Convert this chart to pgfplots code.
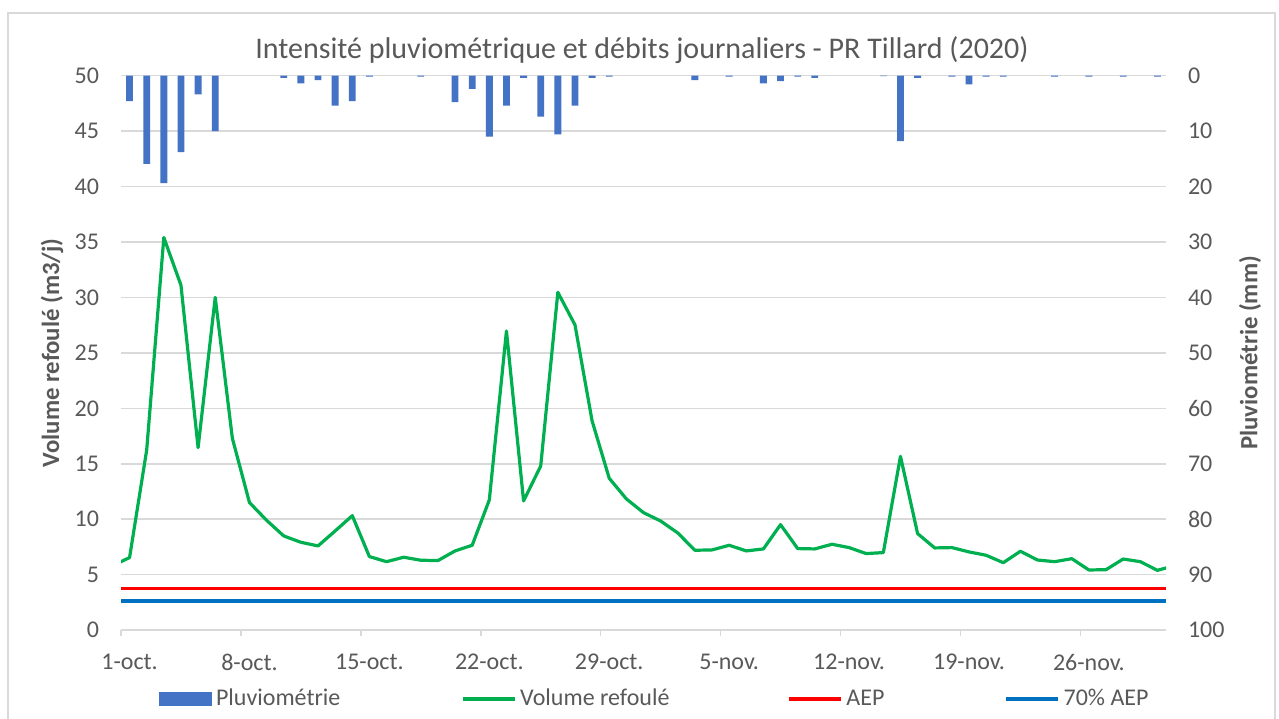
\documentclass[border=0pt]{standalone}
\usepackage{pgfplots}
\usepackage{pgfplotstable}
\pgfplotsset{compat=1.18}
\usepackage{fontspec}
\setmainfont{Carlito}
\definecolor{txtgray}{HTML}{595959}
\definecolor{gridgray}{HTML}{D9D9D9}
\definecolor{barblue}{HTML}{4472C4}
\definecolor{volgreen}{HTML}{00B050}
\definecolor{aepred}{HTML}{FF0000}
\definecolor{aepblue}{HTML}{0070C0}

% Volume refoule (m3/j), day centres (1-oct = 0.5); first and last points lie outside the axis and are clipped
\pgfplotstableread{
x y
-0.5 5.80
0.5 6.54
1.5 16.24
2.5 35.40
3.5 31.10
4.5 16.45
5.5 30.00
6.5 17.30
7.5 11.50
8.5 9.90
9.5 8.49
10.5 7.92
11.5 7.59
12.5 8.94
13.5 10.32
14.5 6.63
15.5 6.17
16.5 6.57
17.5 6.30
18.5 6.27
19.5 7.14
20.5 7.65
21.5 11.74
22.5 26.97
23.5 11.65
24.5 14.80
25.5 30.46
26.5 27.52
27.5 18.86
28.5 13.69
29.5 11.83
30.5 10.59
31.5 9.84
32.5 8.76
33.5 7.20
34.5 7.23
35.5 7.65
36.5 7.14
37.5 7.32
38.5 9.51
39.5 7.35
40.5 7.32
41.5 7.74
42.5 7.44
43.5 6.90
44.5 6.99
45.5 15.67
46.5 8.70
47.5 7.41
48.5 7.44
49.5 7.05
50.5 6.75
51.5 6.08
52.5 7.11
53.5 6.32
54.5 6.17
55.5 6.44
56.5 5.42
57.5 5.45
58.5 6.41
59.5 6.17
60.5 5.39
61.5 5.81
}\voltable

% Pluviometrie (mm)
\pgfplotstableread{
x mm
0.5 4.6
1.5 15.9
2.5 19.4
3.5 13.8
4.5 3.4
5.5 10.0
9.5 0.4
10.5 1.4
11.5 0.8
12.5 5.4
13.5 4.6
14.5 0.2
17.5 0.2
19.5 4.8
20.5 2.4
21.5 11.0
22.5 5.4
23.5 0.4
24.5 7.4
25.5 10.6
26.5 5.4
27.5 0.4
28.5 0.2
33.5 0.8
35.5 0.2
37.5 1.4
38.5 1.0
39.5 0.2
40.5 0.4
44.5 0.1
45.5 11.8
46.5 0.4
48.5 0.2
49.5 1.6
50.5 0.2
51.5 0.2
54.5 0.2
56.5 0.2
58.5 0.2
60.5 0.2
}\pluietable

\pgfplotsset{
  mylinelegend/.style={legend image code/.code={\draw[line width=1.6pt] (0pt,0pt) -- (26pt,0pt);}},
  common/.style={
    at={(60.5pt,43.95pt)}, anchor=south west,
    width=522.5pt, height=277.25pt, scale only axis,
    xmin=0, xmax=61,
    tick label style={font=\fontsize{12}{14}\selectfont, text=txtgray},
    /pgf/number format/assume math mode=true,
  },
  ylab/.style={every axis y label/.style={at={(axis description cs:#1,0.5)}, rotate=90, anchor=center,
    font=\fontsize{12.4}{14}\selectfont\bfseries, text=txtgray}},
}

\begin{document}
\begin{tikzpicture}
\path[use as bounding box] (0pt,0pt) rectangle (639.5pt,359pt);
\fill[white] (0pt,0pt) rectangle (639.5pt,359pt);
\draw[gridgray, line width=0.75pt] (4pt,-3pt) -- (4pt,352.5pt) -- (637.5pt,352.5pt) -- (637.5pt,-3pt);
\node[anchor=base, text=txtgray, font=\fontsize{15}{18}\selectfont, inner sep=0pt] at (321pt,329.85pt) {Intensité pluviométrique et débits journaliers - PR Tillard (2020)};

\begin{axis}[common,
  ymin=0, ymax=50,
  axis lines*=left,
  x axis line style={gridgray, line width=0.75pt},
  y axis line style={draw=none},
  xtick={0,7,...,56},
  xticklabels={1-oct.,8-oct.,15-oct.,22-oct.,29-oct.,5-nov.,12-nov.,19-nov.,26-nov.},
  xticklabel style={xshift=4.28pt},
  xticklabel shift=5.5pt,
  x tick style={draw=gridgray, line width=0.75pt},
  major tick length=3pt, tick align=outside,
  ytick={0,5,...,50},
  ytick style={draw=none},
  yticklabel shift=4.5pt,
  ymajorgrids, grid style={gridgray, line width=0.75pt},
  ylabel={Volume refoulé (m3/j)},
  ylab=-0.066,
]
\addplot[volgreen, line width=1.6pt, line join=round] table[x=x, y=y] {\voltable};
\addplot[aepred, line width=1.6pt] coordinates {(0,3.75) (61,3.75)};
\addplot[aepblue, line width=1.6pt] coordinates {(0,2.63) (61,2.63)};
\end{axis}

\begin{axis}[common,
  ymin=0, ymax=100, y dir=reverse,
  axis y line*=right, hide x axis,
  y axis line style={draw=none},
  ytick={0,10,...,100},
  ytick style={draw=none},
  yticklabel shift=7.5pt,
  ybar, bar width=0.40,
  ylabel={Pluviométrie (mm)},
  ylab=1.0804,
  legend columns=4,
  legend style={at={(axis description cs:0.0364,-0.1243)}, anchor=west,
    draw=none, fill=none, inner sep=0pt, outer sep=0pt,
    font=\fontsize{12}{14}\selectfont, text=txtgray,
    nodes={inner sep=0pt},
    /tikz/every odd column/.append style={column sep=2pt}},
]
\addplot[fill=barblue, draw=none,
  legend image code/.code={\fill (0pt,-3.6pt) rectangle (26.5pt,3.6pt);}]
  table[x=x, y=mm] {\pluietable};
\addlegendentry{\makebox[122.5pt][l]{Pluviométrie}}
\addlegendimage{mylinelegend, volgreen}
\addlegendentry{\makebox[133.5pt][l]{Volume refoulé}}
\addlegendimage{mylinelegend, aepred}
\addlegendentry{\makebox[79pt][l]{AEP}}
\addlegendimage{mylinelegend, aepblue}
\addlegendentry{70\% AEP}
\end{axis}
\end{tikzpicture}
\end{document}
